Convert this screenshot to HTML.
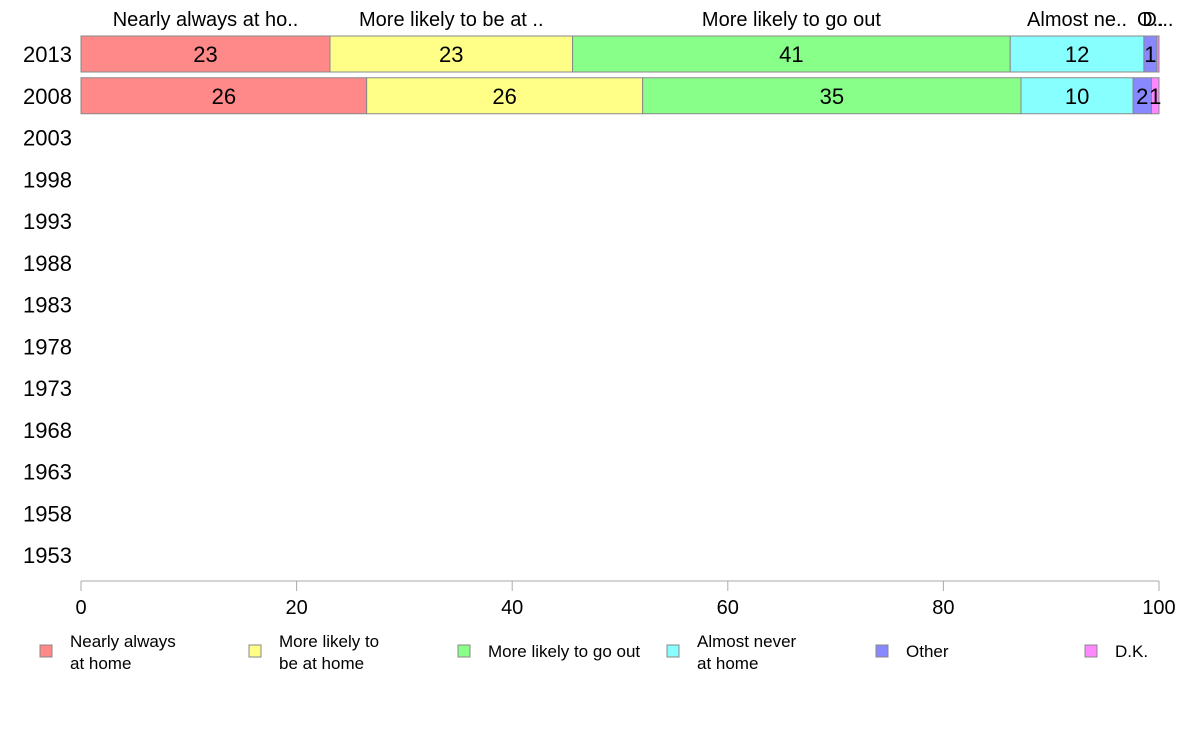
<!DOCTYPE html>
<html><head><meta charset="utf-8"><style>
body{margin:0;background:#fff;font-family:"Liberation Sans",Arial,sans-serif}
svg text{font-family:"Liberation Sans",Arial,sans-serif}
</style></head><body>
<svg id="c" width="1188" height="736"></svg>
<script>
const years=["2013","2008","2003","1998","1993","1988","1983","1978","1973","1968","1963","1958","1953"];
const categories=["Nearly always at home","More likely to be at home","More likely to go out","Almost never at home","Other","D.K."];
const topLabels=["Nearly always at ho..","More likely to be at ..","More likely to go out","Almost ne..","O..","D..."];
const legendLabels=[["Nearly always","at home"],["More likely to","be at home"],["More likely to go out"],["Almost never","at home"],["Other"],["D.K."]];
const values2013=[23.1,22.5,40.6,12.4,1.2,0.2];
const values2008=[26.5,25.6,35.1,10.4,1.7,0.7];
const printed2013=["23","23","41","12","1",""];
const printed2008=["26","26","35","10","2","1"];
const xTicks=[0,20,40,60,80,100];
const colors=["#ff8888","#ffff88","#88ff88","#88ffff","#8888ff","#ff88ff"];
const svg=document.getElementById('c');const NS="http://www.w3.org/2000/svg";
function mk(t,a,txt){const e=document.createElementNS(NS,t);for(const k in a)e.setAttribute(k,a[k]);if(txt!==undefined)e.textContent=txt;svg.appendChild(e);return e;}
const x=v=>81+v*10.78;
const y=i=>54+i*41.75;
years.forEach((yr,i)=>{const t=mk('text',{x:72,y:y(i)+8,'text-anchor':'end','font-size':22,fill:'#000'},yr);

});
function row(vals,pr,i,yr){let c=0;vals.forEach((v,k)=>{const r=mk('rect',{x:x(c),y:y(i)-18,width:x(c+v)-x(c),height:36,fill:colors[k],stroke:'#888','stroke-width':1});


if(pr[k]){const t=mk('text',{x:(x(c)+x(c+v))/2,y:y(i)+8,'text-anchor':'middle','font-size':22},pr[k]);

}
c+=v;});}
row(values2013,printed2013,0,'2013');row(values2008,printed2008,1,'2008');
let c=0;values2013.forEach((v,k)=>{const t=mk('text',{x:(x(c)+x(c+v))/2,y:26,'text-anchor':'middle','font-size':20},topLabels[k]);

c+=v;});
const ax=mk('line',{x1:x(0),x2:x(100),y1:581,y2:581,stroke:'#aaa'});


xTicks.forEach(v=>{const l=mk('line',{x1:x(v),x2:x(v),y1:581,y2:591,stroke:'#aaa'});


const t=mk('text',{x:x(v),y:614,'text-anchor':'middle','font-size':20},String(v));

});
legendLabels.forEach((lab,k)=>{const bx=40+k*209;
const r=mk('rect',{x:bx,y:645,width:12,height:12,fill:colors[k],stroke:'#888'});


lab.forEach((s,j)=>{const yy=lab.length==1?657:647+j*22;
const t=mk('text',{x:bx+30,y:yy,'font-size':17},s);

});});
</script>
</body></html>
